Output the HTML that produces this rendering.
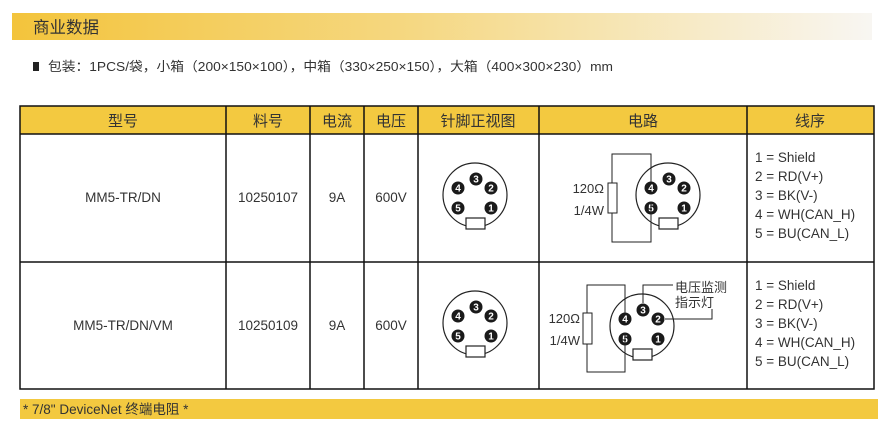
<!DOCTYPE html>
<html><head><meta charset="utf-8"><style>
body{margin:0;width:890px;height:429px;background:#fff;overflow:hidden;font-family:"Liberation Sans","Noto Sans CJK SC",sans-serif;}
svg text{font-family:"Liberation Sans","Noto Sans CJK SC",sans-serif;}
</style></head><body>
<svg width="890" height="429" viewBox="0 0 890 429" xmlns="http://www.w3.org/2000/svg">
<defs>
<linearGradient id="g" x1="0" x2="1"><stop offset="0" stop-color="#f3c43c"/><stop offset="0.45" stop-color="#f5d77f"/><stop offset="1" stop-color="#f8f6f2"/></linearGradient>
<g id="conn">
<circle cx="0" cy="0" r="32" fill="#fff" stroke="#222" stroke-width="1.2"/>
<rect x="-9" y="23" width="19" height="11" fill="#fff" stroke="#222" stroke-width="1.2"/>
<g font-size="10" fill="#fff" text-anchor="middle" font-weight="bold">
<circle cx="1" cy="-16" r="6.5" fill="#1a1a1a"/><text x="1" y="-12.5">3</text>
<circle cx="-17" cy="-7" r="6.5" fill="#1a1a1a"/><text x="-17" y="-3.5">4</text>
<circle cx="16" cy="-7" r="6.5" fill="#1a1a1a"/><text x="16" y="-3.5">2</text>
<circle cx="-17" cy="13" r="6.5" fill="#1a1a1a"/><text x="-17" y="16.5">5</text>
<circle cx="16" cy="13" r="6.5" fill="#1a1a1a"/><text x="16" y="16.5">1</text>
</g></g>
</defs>
<rect x="12" y="13" width="860" height="27" fill="url(#g)"/>
<text x="33" y="33" font-size="16.5" fill="#333">商业数据</text>
<rect x="33" y="62" width="6" height="9" fill="#222"/>
<text x="48" y="71" font-size="13" fill="#333" textLength="565" lengthAdjust="spacingAndGlyphs">包装：1PCS/袋，小箱（200×150×100），中箱（330×250×150），大箱（400×300×230）mm</text>
<rect x="20" y="106" width="854" height="28" fill="#f3c940"/>
<g stroke="#111" stroke-width="1.5" fill="none">
<rect x="20" y="106" width="854" height="283"/>
<line x1="20" y1="134" x2="874" y2="134"/><line x1="20" y1="262" x2="874" y2="262"/>
<line x1="226" y1="106" x2="226" y2="389"/><line x1="310" y1="106" x2="310" y2="389"/>
<line x1="364" y1="106" x2="364" y2="389"/><line x1="418" y1="106" x2="418" y2="389"/>
<line x1="539" y1="106" x2="539" y2="389"/><line x1="747" y1="106" x2="747" y2="389"/>
</g>
<g font-size="15" fill="#333" text-anchor="middle">
<text x="123" y="126">型号</text><text x="268" y="126">料号</text><text x="337" y="126">电流</text><text x="391" y="126">电压</text><text x="478" y="126">针脚正视图</text><text x="643" y="126">电路</text><text x="810" y="126">线序</text>
</g>
<g font-size="13.5" fill="#333" text-anchor="middle">
<text x="123" y="202">MM5-TR/DN</text><text x="268" y="202">10250107</text><text x="337" y="202">9A</text><text x="391" y="202">600V</text>
<text x="123" y="330">MM5-TR/DN/VM</text><text x="268" y="330">10250109</text><text x="337" y="330">9A</text><text x="391" y="330">600V</text>
</g>
<g font-size="13.5" fill="#333">
<text x="755" y="162">1 = Shield</text><text x="755" y="181">2 = RD(V+)</text><text x="755" y="200">3 = BK(V-)</text><text x="755" y="219">4 = WH(CAN_H)</text><text x="755" y="238">5 = BU(CAN_L)</text>
<text x="755" y="290">1 = Shield</text><text x="755" y="309">2 = RD(V+)</text><text x="755" y="328">3 = BK(V-)</text><text x="755" y="347">4 = WH(CAN_H)</text><text x="755" y="366">5 = BU(CAN_L)</text>
</g>
<use href="#conn" x="475" y="195"/>
<use href="#conn" x="475" y="323"/>
<use href="#conn" x="668" y="195"/>
<g stroke="#222" stroke-width="1" fill="none">
<path d="M612,183 V154 H651 V182 M651,202 V242 H612 V213"/>
<rect x="608" y="183" width="9" height="30" fill="#fff"/>
</g>
<g font-size="13" fill="#333" text-anchor="end"><text x="604" y="193">120Ω</text><text x="604" y="215">1/4W</text></g>
<use href="#conn" x="642" y="326"/>
<g stroke="#222" stroke-width="1" fill="none">
<path d="M587,313 V285 H625 V313 M625,333 V372 H587 V344"/>
<rect x="583" y="313" width="9" height="31" fill="#fff"/>
<path d="M643,303 V285 H673 M665,319 H712 V309"/>
</g>
<g font-size="13" fill="#333" text-anchor="end"><text x="580" y="323">120Ω</text><text x="580" y="345">1/4W</text></g>
<g font-size="13" fill="#333"><text x="675" y="292">电压监测</text><text x="675" y="307">指示灯</text></g>
<rect x="20" y="399" width="858" height="20" fill="#f3c940"/>
<text x="23" y="414" font-size="13.5" fill="#333">* 7/8" DeviceNet 终端电阻 *</text>
</svg>
</body></html>
